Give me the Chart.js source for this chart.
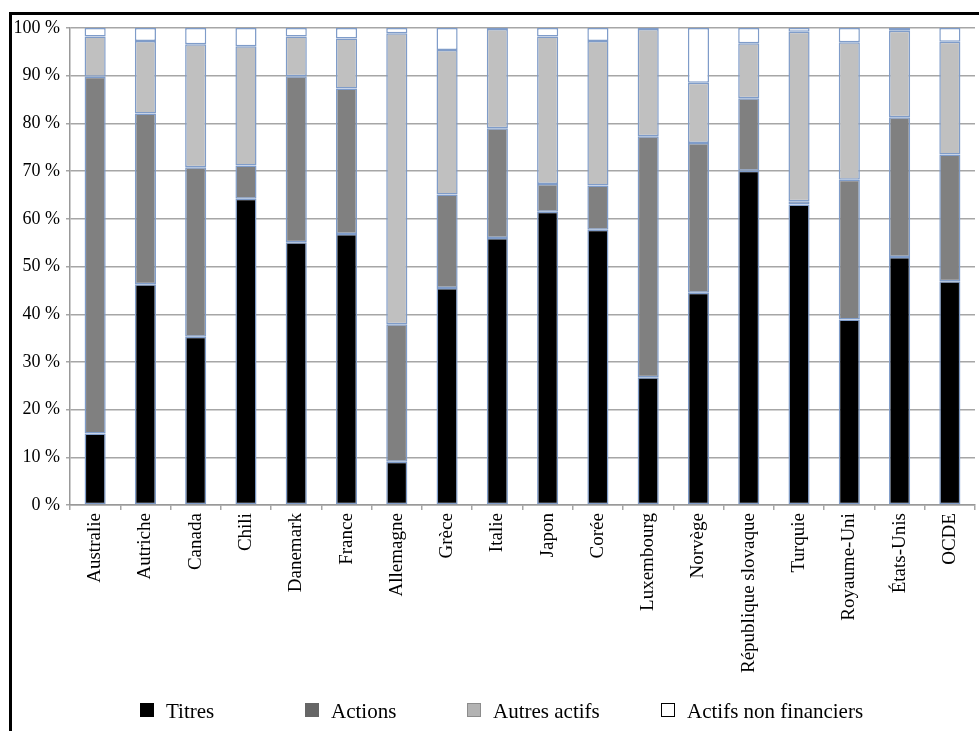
<!DOCTYPE html>
<html>
<head>
<meta charset="utf-8">
<script src="https://cdn.jsdelivr.net/npm/chart.js@4.4.1/dist/chart.umd.min.js"></script>
<style>
  html, body { margin: 0; padding: 0; background: #fff; }
  #wrap { position: relative; width: 979px; height: 731px; overflow: hidden; }
  #frame { position: absolute; left: 9px; top: 12px; width: 1000px; height: 800px;
           border-top: 3px solid #000; border-left: 3px solid #000; pointer-events: none; }
  canvas { position: absolute; left: 0; top: 0; }
</style>
</head>
<body>
<div id="wrap">
  <canvas id="chart" width="979" height="731"></canvas>
  <div id="frame"></div>
</div>
<script>
// Composition of pension fund assets by country (% of total)
const countries = ["Australie", "Autriche", "Canada", "Chili", "Danemark", "France", "Allemagne",
  "Grèce", "Italie", "Japon", "Corée", "Luxembourg", "Norvège", "République slovaque",
  "Turquie", "Royaume-Uni", "États-Unis", "OCDE"];

const titres        = [15.0, 46.3, 35.3, 64.2, 55.1, 56.8,  9.1, 45.5, 56.0, 61.5, 57.7, 26.8, 44.5, 70.1, 63.0, 38.9, 52.0, 46.9];
const actions       = [74.8, 35.8, 35.5,  7.0, 34.8, 30.5, 28.8, 19.6, 23.0,  5.8,  9.3, 50.5, 31.4, 15.2,  0.7, 29.3, 29.3, 26.6];
const autresActifs  = [ 8.4, 15.2, 25.8, 25.0,  8.3, 10.5, 61.0, 30.3, 20.8, 30.9, 30.3, 22.5, 12.6, 11.5, 35.5, 28.8, 18.1, 23.6];
const nonFinanciers = [ 1.8,  2.7,  3.4,  3.8,  1.8,  2.2,  1.1,  4.6,  0.2,  1.8,  2.7,  0.2, 11.5,  3.2,  0.8,  3.0,  0.6,  2.9];

const yTicks = [0, 10, 20, 30, 40, 50, 60, 70, 80, 90, 100];

const seriesNames = ["Titres", "Actions", "Autres actifs", "Actifs non financiers"];
const barColors = ["#000000", "#808080", "#c0c0c0", "#ffffff"];
const legendFill = ["#000000", "#666666", "#b3b3b3", "#ffffff"];
const legendStroke = ["#000000", "#666666", "#8c8c8c", "#000000"];

const FONT = "'Liberation Serif', 'Times New Roman', serif";
const OUTLINE = "#7f9cc9";

function makeDataset(i, values) {
  return {
    label: seriesNames[i],
    data: values,
    backgroundColor: barColors[i],
    borderColor: OUTLINE,
    borderWidth: 1.5,
    borderSkipped: false,
    categoryPercentage: 1.0,
    barPercentage: 0.42
  };
}

// Legend row drawn beneath the category labels
const bottomLegend = {
  id: "bottomLegend",
  afterDraw(chart) {
    const ctx = chart.ctx;
    const box = 14, textGap = 12;
    const itemX = [140, 305, 467, 661];
    const cy = 711;
    ctx.save();
    ctx.font = "21px " + FONT;
    ctx.textBaseline = "middle";
    seriesNames.forEach((name, i) => {
      const x = itemX[i];
      ctx.fillStyle = legendFill[i];
      ctx.fillRect(x, cy - box / 2 - 1, box, box);
      ctx.strokeStyle = legendStroke[i];
      ctx.lineWidth = 1;
      ctx.strokeRect(x + 0.5, cy - box / 2 - 0.5, box - 1, box - 1);
      ctx.fillStyle = "#000";
      ctx.fillText(name, x + box + textGap, cy + 1);
    });
    ctx.restore();
  }
};

new Chart(document.getElementById("chart"), {
  type: "bar",
  data: {
    labels: countries,
    datasets: [
      makeDataset(0, titres),
      makeDataset(1, actions),
      makeDataset(2, autresActifs),
      makeDataset(3, nonFinanciers)
    ]
  },
  options: {
    responsive: false,
    animation: false,
    devicePixelRatio: 1,
    layout: { padding: { left: 12, right: 4, top: 28, bottom: 55 } },
    plugins: {
      legend: { display: false },
      tooltip: { enabled: false }
    },
    scales: {
      x: {
        stacked: true,
        grid: { display: true, drawOnChartArea: false, offset: true, tickLength: 5, color: "#a6a6a6", lineWidth: 1.5 },
        border: { display: true, color: "#999999", width: 1.5 },
        ticks: {
          autoSkip: false, minRotation: 90, maxRotation: 90, padding: 3,
          color: "#000", font: { family: FONT, size: 19 }
        }
      },
      y: {
        stacked: true,
        min: 0, max: 100,
        afterBuildTicks(scale) { scale.ticks = yTicks.map(v => ({ value: v })); },
        afterFit(scale) { scale.width = 58; },
        grid: { color: "#a6a6a6", lineWidth: 1.5, tickLength: 4 },
        border: { display: true, color: "#999999", width: 1.5 },
        ticks: {
          padding: 6, color: "#000", font: { family: FONT, size: 18 },
          callback: v => v + " %"
        }
      }
    }
  },
  plugins: [bottomLegend]
});
</script>
</body>
</html>
